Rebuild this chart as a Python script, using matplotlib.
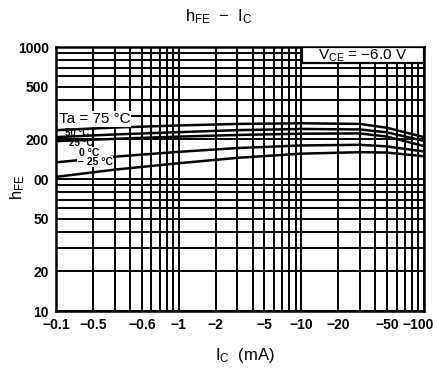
import matplotlib.pyplot as plt
from matplotlib.patches import Rectangle
from matplotlib.ticker import FixedLocator, LogLocator, NullFormatter
from matplotlib.transforms import ScaledTranslation

plt.rcParams['font.family'] = ['Liberation Sans', 'DejaVu Sans']
plt.rcParams['mathtext.default'] = 'regular'

# Collector current (mA, magnitude) and hFE per ambient temperature
ic = [0.1, 0.3, 1, 3, 10, 30, 50, 100]
hfe_75 = [235, 246, 255, 262, 265, 262, 245, 208]
hfe_50 = [208, 218, 227, 235, 240, 238, 226, 195]
hfe_25 = [194, 202, 210, 216, 221, 222, 210, 178]
hfe_0 = [134, 148, 161, 172, 180, 182, 177, 162]
hfe_m25 = [104, 118, 132, 145, 156, 160, 159, 149]

# tick labels as printed on the sheet
x_ticks = [0.1, 0.2, 0.5, 1, 2, 5, 10, 20, 50, 100]
x_labels = ['\u22120.1', '\u22120.5', '\u22120.6', '\u22121', '\u22122',
            '\u22125', '\u221210', '\u221220', '\u221250', '\u2212100']
y_ticks = [10, 20, 50, 100, 200, 500, 1000]
y_labels = ['10', '20', '50', '00', '200', '500', '1000']

fig = plt.figure(figsize=(4.38, 3.74), dpi=100)
ax = fig.add_axes([0.128, 0.168, 0.840, 0.706])

ax.set_xscale('log')
ax.set_yscale('log')
ax.set_xlim(0.1, 100)
ax.set_ylim(10, 1000)

ax.xaxis.set_major_locator(FixedLocator(x_ticks))
ax.set_xticklabels(x_labels)
ax.xaxis.set_minor_locator(LogLocator(base=10, subs=range(2, 10)))
ax.xaxis.set_minor_formatter(NullFormatter())
ax.yaxis.set_major_locator(FixedLocator(y_ticks))
ax.set_yticklabels(y_labels)
ax.yaxis.set_minor_locator(LogLocator(base=10, subs=range(2, 10)))
ax.yaxis.set_minor_formatter(NullFormatter())

ax.grid(True, which='both', color='black', linewidth=1.4)
ax.set_axisbelow(True)
ax.tick_params(which='both', length=0, pad=5)
for lab in ax.get_xticklabels() + ax.get_yticklabels():
    lab.set_fontsize(10)
    lab.set_fontweight('bold')
# last x label sits a bit to the left on the sheet
last = ax.get_xticklabels()[-1]
last.set_transform(last.get_transform() + ScaledTranslation(-4 / 72, 0, fig.dpi_scale_trans))
for sp in ax.spines.values():
    sp.set_linewidth(1.8)

for vals in [hfe_75, hfe_50, hfe_25, hfe_0, hfe_m25]:
    ax.plot(ic, vals, color='black', linewidth=1.8, zorder=3)

# curve labels
box = dict(facecolor='white', edgecolor='none', pad=0.5)
ax.text(0.105, 285, 'Ta = 75 \u00b0C', fontsize=11, va='center', ha='left', bbox=box, zorder=4)
ax.text(0.118, 222, '50 \u00b0C', fontsize=7, fontweight='bold', va='center', ha='left', zorder=4)
ax.text(0.128, 187, '25 \u00b0C', fontsize=7, fontweight='bold', va='center', ha='left', zorder=4)
ax.text(0.155, 158, '0 \u00b0C', fontsize=7.5, fontweight='bold', va='center', ha='left', bbox=box, zorder=4)
ax.text(0.150, 136, '\u2212 25 \u00b0C', fontsize=7.5, fontweight='bold', va='center', ha='left', bbox=box, zorder=4)

# VCE condition box in the top right corner
ax.add_patch(Rectangle((0.668, 0.939), 0.332, 0.061, transform=ax.transAxes,
                       facecolor='white', edgecolor='black', linewidth=1.6, zorder=4))
ax.text(0.834, 0.968, '$V_{CE}$ = \u22126.0 V', transform=ax.transAxes,
        fontsize=11, ha='center', va='center', zorder=5)

fig.text(0.500, 0.955, '$h_{FE}$  \u2212  $I_C$', fontsize=12, ha='center', va='center')
fig.text(0.040, 0.50, '$h_{FE}$', fontsize=12, ha='center', va='center', rotation=90)
fig.text(0.560, 0.050, '$I_C$  (mA)', fontsize=12, ha='center', va='center')

fig.savefig('out.png', dpi=100)
